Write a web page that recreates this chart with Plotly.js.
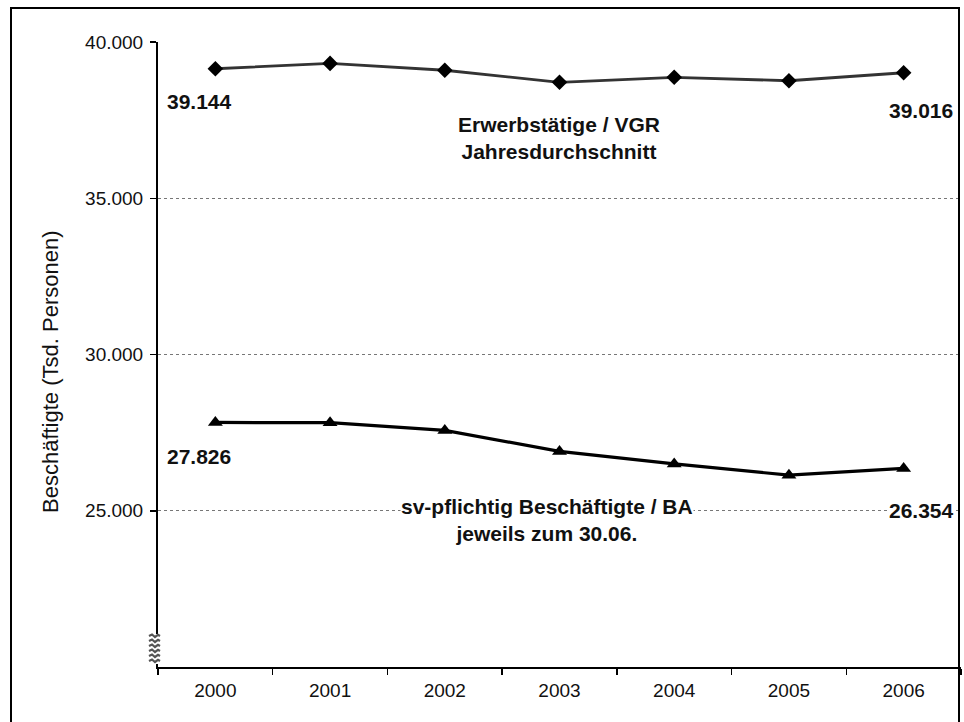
<!DOCTYPE html>
<html>
<head>
<meta charset="utf-8">
<script src="https://cdn.plot.ly/plotly-3.0.1.min.js"></script>
<style>
  html, body { margin: 0; padding: 0; background: #fff; }
  #wrap { position: relative; width: 964px; height: 722px; overflow: hidden; }
  #chart { width: 964px; height: 722px; }
  #frame { position: absolute; left: 10px; top: 7px; width: 946px; height: 800px;
           border: 2px solid #000; pointer-events: none; }
</style>
</head>
<body>
<div id="wrap"><div id="chart"></div><div id="frame"></div></div>
<script>
// ---- data ----
const years = ['2000', '2001', '2002', '2003', '2004', '2005', '2006'];
const erwerbstaetige = [39144, 39316, 39096, 38710, 38870, 38760, 39016];
const svBeschaeftigte = [27826, 27817, 27570, 26900, 26500, 26140, 26354];
const yTickVals = [25000, 30000, 35000, 40000];
const yTickText = ['25.000', '30.000', '35.000', '40.000'];
const nameTop = ['Erwerbstätige / VGR', 'Jahresdurchschnitt'];
const nameBottom = ['sv-pflichtig Beschäftigte / BA', 'jeweils zum 30.06.'];
const yTitle = 'Beschäftigte (Tsd. Personen)';

function fmt(v) { return String(v).replace(/\B(?=(\d{3})+(?!\d))/g, '.'); }

const FONT = '"Liberation Sans", Arial, sans-serif';
const boldFont = { family: FONT, size: 21, color: '#111', weight: 'bold' };

const traces = [
  {
    x: years, y: erwerbstaetige, type: 'scatter', mode: 'lines+markers',
    line: { color: '#333333', width: 2.8 },
    marker: { symbol: 'diamond', size: 12, color: '#000' },
    hoverinfo: 'skip'
  },
  {
    x: years, y: svBeschaeftigte, type: 'scatter', mode: 'lines+markers',
    line: { color: '#000000', width: 3.2 },
    marker: { symbol: 'triangle-up', size: 13, color: '#000' },
    hoverinfo: 'skip'
  }
];

const last = years.length - 1;
const annotations = [
  { xref: 'paper', x: 0.009, xanchor: 'left', yref: 'y', y: 38110, yanchor: 'middle',
    text: fmt(erwerbstaetige[0]), showarrow: false, font: boldFont },
  { xref: 'paper', x: 0.9925, xanchor: 'right', yref: 'y', y: 37820, yanchor: 'middle',
    text: fmt(erwerbstaetige[last]), showarrow: false, font: boldFont },
  { xref: 'paper', x: 0.4995, xanchor: 'center', yref: 'y', y: 36940, yanchor: 'middle',
    text: nameTop.join('<br>'), showarrow: false, font: boldFont, align: 'center' },
  { xref: 'paper', x: 0.009, xanchor: 'left', yref: 'y', y: 26730, yanchor: 'middle',
    text: fmt(svBeschaeftigte[0]), showarrow: false, font: boldFont },
  { xref: 'paper', x: 0.9925, xanchor: 'right', yref: 'y', y: 25000, yanchor: 'middle',
    text: fmt(svBeschaeftigte[last]), showarrow: false, font: boldFont, bgcolor: '#fff', borderpad: 0 },
  { xref: 'paper', x: 0.484, xanchor: 'center', yref: 'y', y: 24700, yanchor: 'middle',
    text: nameBottom.join('<br>'), showarrow: false, font: boldFont, align: 'center', bgcolor: '#fff', borderpad: 0 },
  { xref: 'paper', x: -0.1345, xanchor: 'center', yref: 'paper', y: 0.472, yanchor: 'middle',
    text: yTitle, textangle: -90, showarrow: false,
    font: { family: FONT, size: 22, color: '#111' } }
];

function breakPath() {
  let p = '';
  for (let k = 0; k < 6; k++) {
    const y = 6 + k * 5;
    p += `M-9,${y} L-6,${y + 1.5} L-3,${y - 1} L0,${y + 1.2} L2,${y} `;
  }
  return p.trim();
}

const shapes = [
  { type: 'rect', layer: 'above', xref: 'paper', xsizemode: 'pixel', xanchor: 0,
    yref: 'paper', ysizemode: 'pixel', yanchor: 0,
    x0: -10, x1: 2, y0: 3, y1: 33, fillcolor: '#fff', line: { width: 0 } },
  { type: 'path', layer: 'above', xref: 'paper', xsizemode: 'pixel', xanchor: 0,
    yref: 'paper', ysizemode: 'pixel', yanchor: 0,
    path: breakPath(),
    line: { color: '#555', width: 2.2 } }
];

const layout = {
  width: 964, height: 722,
  margin: { l: 158, r: 3, t: 42, b: 55, pad: 0 },
  paper_bgcolor: '#fff', plot_bgcolor: '#fff',
  showlegend: false,
  font: { family: FONT, size: 19, color: '#111' },
  xaxis: {
    type: 'category', range: [-0.5, 6.5], tickson: 'boundaries',
    ticks: 'outside', ticklen: 6, tickwidth: 1.5, tickcolor: '#000',
    ticklabelstandoff: 6,
    showline: true, linecolor: '#000', linewidth: 1.5,
    showgrid: false, zeroline: false, fixedrange: true,
    tickfont: { family: FONT, size: 19, color: '#111' }
  },
  yaxis: {
    range: [20000, 40000], tickmode: 'array', tickvals: yTickVals, ticktext: yTickText,
    ticks: 'outside', ticklen: 6, tickwidth: 1.5, tickcolor: '#000',
    ticklabelstandoff: 3,
    showline: true, linecolor: '#000', linewidth: 2,
    showgrid: true, gridcolor: '#777', griddash: 'dot', gridwidth: 1,
    zeroline: false, fixedrange: true,
    tickfont: { family: FONT, size: 19, color: '#111' }
  },
  annotations: annotations,
  shapes: shapes
};

Plotly.newPlot('chart', traces, layout, { staticPlot: true, displayModeBar: false });
</script>
</body>
</html>
